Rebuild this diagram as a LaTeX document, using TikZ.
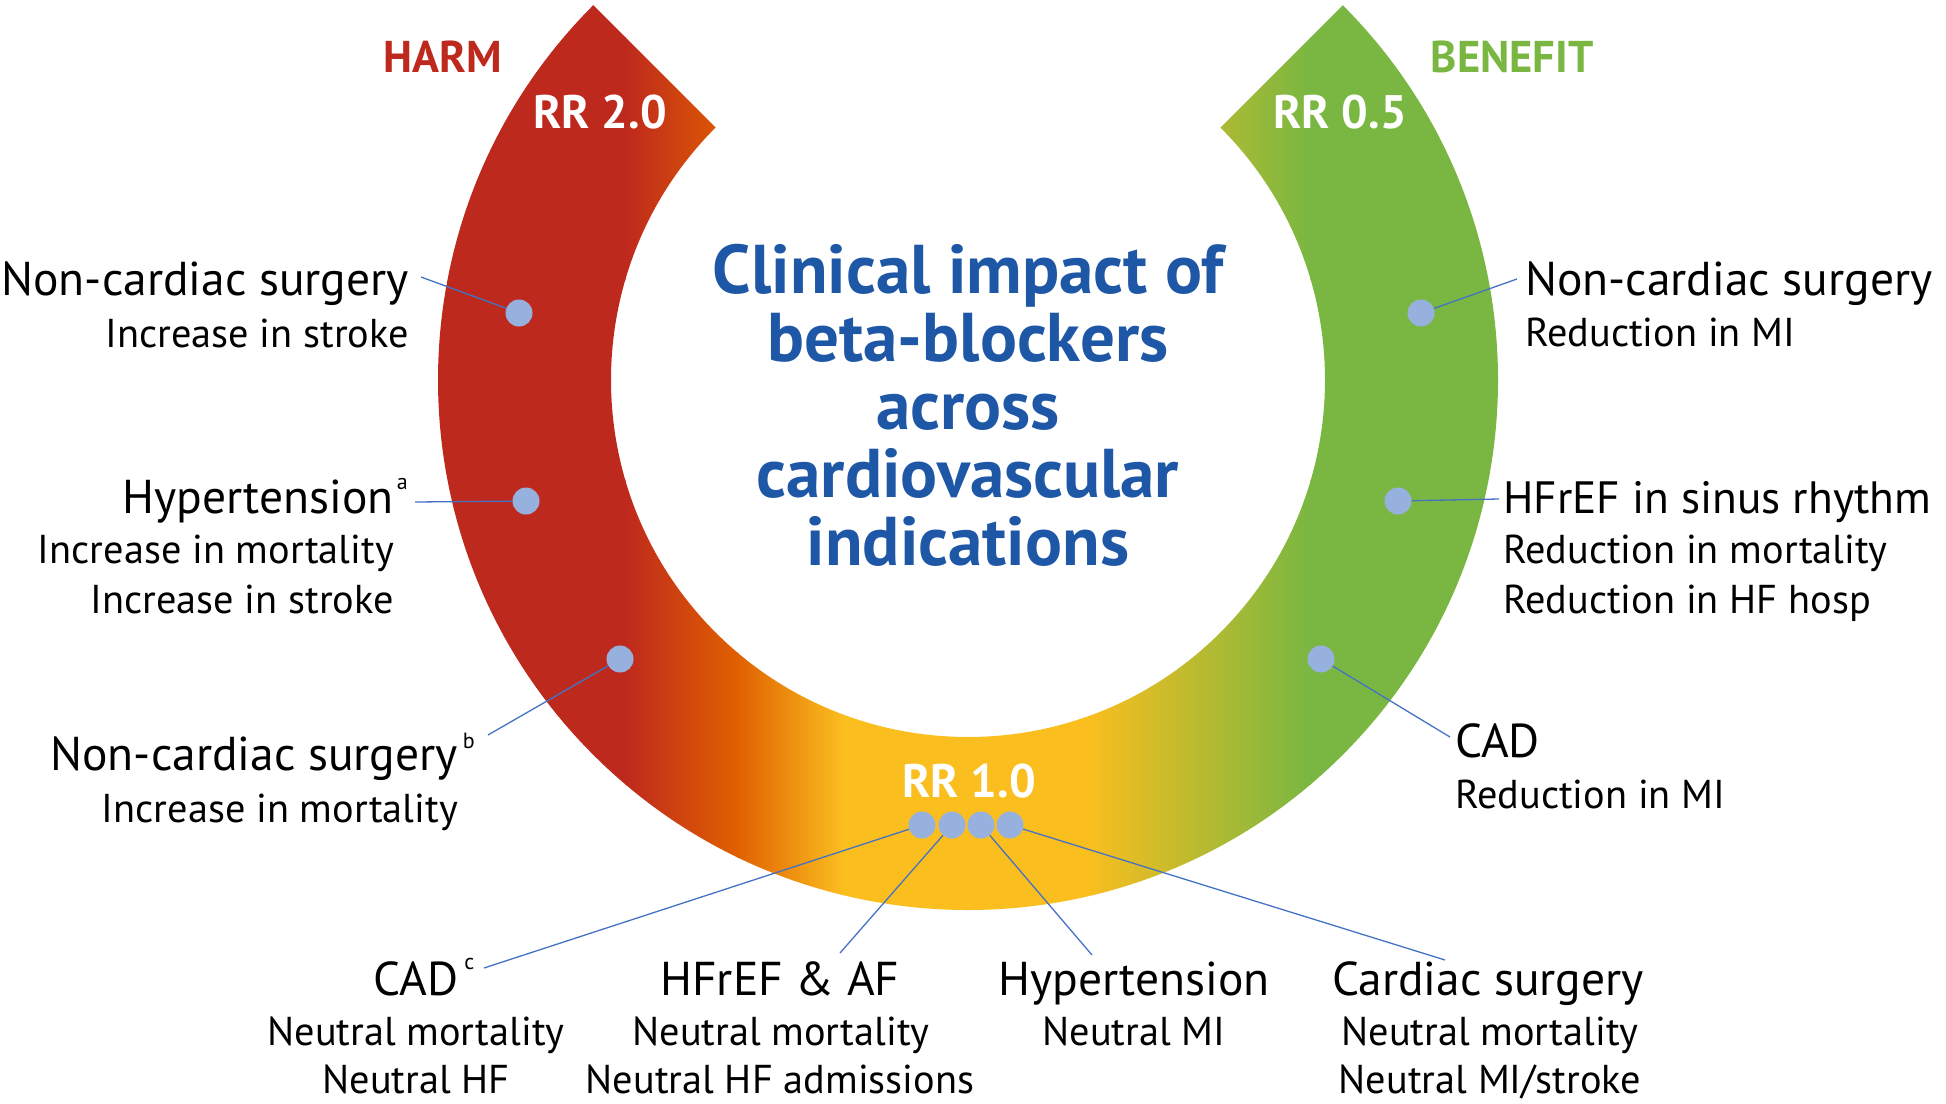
\documentclass[tikz,border=0pt]{standalone}
\usepackage{fontspec}
\setmainfont{PT Sans}
\definecolor{harmred}{RGB}{190,41,29}
\definecolor{midorange}{RGB}{224,96,0}
\definecolor{midyellow}{RGB}{251,190,31}
\definecolor{benefitgreen}{RGB}{121,183,66}
\definecolor{titleblue}{RGB}{30,87,166}
\definecolor{dotblue}{RGB}{151,177,222}
\definecolor{lineblue}{RGB}{68,114,196}

\begin{document}
\begin{tikzpicture}[x=1pt,y=1pt,
  bubble/.style={circle,fill=dotblue,inner sep=0pt,minimum size=27pt},
  leader/.style={lineblue,line width=1.3pt},
  headtxt/.style={inner sep=0pt,font=\fontsize{47.5}{47.5}\selectfont},
  subtxt/.style={inner sep=0pt,font=\fontsize{40.3}{40.3}\selectfont},
  rrtxt/.style={inner sep=0pt,white,font=\fontsize{47}{47}\selectfont\bfseries},
  sidetxt/.style={inner sep=0pt,font=\fontsize{44.5}{44.5}\selectfont\bfseries}]
  \useasboundingbox (0,0) rectangle (1946,-1103);
  \coordinate (c) at (968,-380);

  % the ring, coloured from harm to benefit
  \begin{scope}
    \clip ([shift={(135:530)}]c) arc[start angle=135,end angle=405,radius=530]
      -- ([shift={(45:357)}]c) arc[start angle=45,end angle=-225,radius=357] -- cycle;
    \fill[harmred] (430,0) rectangle (626,-920);
    \shade[left color=harmred,right color=midorange] (625,0) rectangle (738,-920);
    \shade[left color=midorange,right color=midyellow] (737,0) rectangle (843,-920);
    \fill[midyellow] (842,0) rectangle (1086,-920);
    \shade[left color=midyellow,right color=benefitgreen] (1085,0) rectangle (1311,-920);
    \fill[benefitgreen] (1310,0) rectangle (1510,-920);
  \end{scope}

  \node[sidetxt,harmred,anchor=base] (harm) at (443,-72) {HARM};
  \node[sidetxt,benefitgreen,anchor=base] (benefit) at (1512,-72) {BENEFIT};
  \node[rrtxt,anchor=base] (rrhigh) at (600,-128) {RR 2.0};
  \node[rrtxt,anchor=base] (rrlow) at (1340,-128) {RR 0.5};
  \node[rrtxt,anchor=base] (rrone) at (969,-797) {RR 1.0};

  \node[inner sep=0pt,anchor=north,align=center,titleblue,
    font=\fontsize{69}{68}\selectfont\bfseries] (title) at (968,-244)
    {Clinical impact of\\beta-blockers\\across\\cardiovascular\\indications};

  % dots on the ring
  \node[bubble] (harm1) at (519,-313) {};
  \node[bubble] (harm2) at (526,-501) {};
  \node[bubble] (harm3) at (620,-659) {};
  \node[bubble] (ben1) at (1421,-313) {};
  \node[bubble] (ben2) at (1398,-501) {};
  \node[bubble] (ben3) at (1321,-659) {};
  \node[bubble] (neut1) at (922,-825) {};
  \node[bubble] (neut2) at (952,-825) {};
  \node[bubble] (neut3) at (981,-825) {};
  \node[bubble] (neut4) at (1010,-825) {};

  % harm side
  \node[headtxt,anchor=base east] (harm1h) at (409,-295) {Non-cardiac surgery};
  \node[subtxt,anchor=base east] (harm1s) at (409,-347) {Increase in stroke};
  \node[headtxt,anchor=base east] (harm2h) at (394,-513)
    {Hypertension\rlap{\kern3pt\raisebox{24pt}{\fontsize{22}{22}\selectfont a}}};
  \node[subtxt,anchor=base east] (harm2s) at (394,-563) {Increase in mortality};
  \node[subtxt,anchor=base east] (harm2t) at (394,-613) {Increase in stroke};
  \node[headtxt,anchor=base east] (harm3h) at (458,-770)
    {Non-cardiac surgery\rlap{\kern5pt\raisebox{22pt}{\fontsize{22}{22}\selectfont b}}};
  \node[subtxt,anchor=base east] (harm3s) at (458,-822) {Increase in mortality};
  \coordinate (harm1e) at (421,-277);
  \coordinate (harm2e) at (415,-502);
  \coordinate (harm3e) at (488,-735);
  \draw[leader] (harm1) -- (harm1e);
  \draw[leader] (harm2) -- (harm2e);
  \draw[leader] (harm3) -- (harm3e);

  % benefit side
  \node[headtxt,anchor=base west] (ben1h) at (1525,-295) {Non-cardiac surgery};
  \node[subtxt,anchor=base west] (ben1s) at (1525,-346) {Reduction in MI};
  \node[headtxt,anchor=base west,font=\fontsize{45.3}{45.3}\selectfont] (ben2h)
    at (1503,-513) {HFrEF in sinus rhythm};
  \node[subtxt,anchor=base west] (ben2s) at (1503,-563) {Reduction in mortality};
  \node[subtxt,anchor=base west] (ben2t) at (1503,-613) {Reduction in HF hosp};
  \node[headtxt,anchor=base west] (ben3h) at (1455,-757) {CAD};
  \node[subtxt,anchor=base west] (ben3s) at (1455,-808) {Reduction in MI};
  \coordinate (ben1e) at (1517,-279);
  \coordinate (ben2e) at (1499,-499);
  \coordinate (ben3e) at (1450,-737);
  \draw[leader] (ben1) -- (ben1e);
  \draw[leader] (ben2) -- (ben2e);
  \draw[leader] (ben3) -- (ben3e);

  % neutral, below the ring
  \node[headtxt,anchor=base] (neut1h) at (416,-995)
    {CAD\rlap{\kern6pt\raisebox{26pt}{\fontsize{22}{22}\selectfont c}}};
  \node[subtxt,anchor=base] (neut1s) at (416,-1045) {Neutral mortality};
  \node[subtxt,anchor=base] (neut1t) at (416,-1093) {Neutral HF};
  \node[headtxt,anchor=base] (neut2h) at (780,-995) {HFrEF \& AF};
  \node[subtxt,anchor=base] (neut2s) at (781,-1045) {Neutral mortality};
  \node[subtxt,anchor=base] (neut2t) at (780,-1093) {Neutral HF admissions};
  \node[headtxt,anchor=base] (neut3h) at (1134,-995) {Hypertension};
  \node[subtxt,anchor=base] (neut3s) at (1134,-1045) {Neutral MI};
  \node[headtxt,anchor=base] (neut4h) at (1488,-995) {Cardiac surgery};
  \node[subtxt,anchor=base] (neut4s) at (1490,-1045) {Neutral mortality};
  \node[subtxt,anchor=base] (neut4t) at (1490,-1093) {Neutral MI/stroke};
  \coordinate (neut1e) at (484,-968);
  \coordinate (neut2e) at (840,-953);
  \coordinate (neut3e) at (1092,-955);
  \coordinate (neut4e) at (1445,-960);
  \draw[leader] (neut1) -- (neut1e);
  \draw[leader] (neut2) -- (neut2e);
  \draw[leader] (neut3) -- (neut3e);
  \draw[leader] (neut4) -- (neut4e);
\end{tikzpicture}
\end{document}
